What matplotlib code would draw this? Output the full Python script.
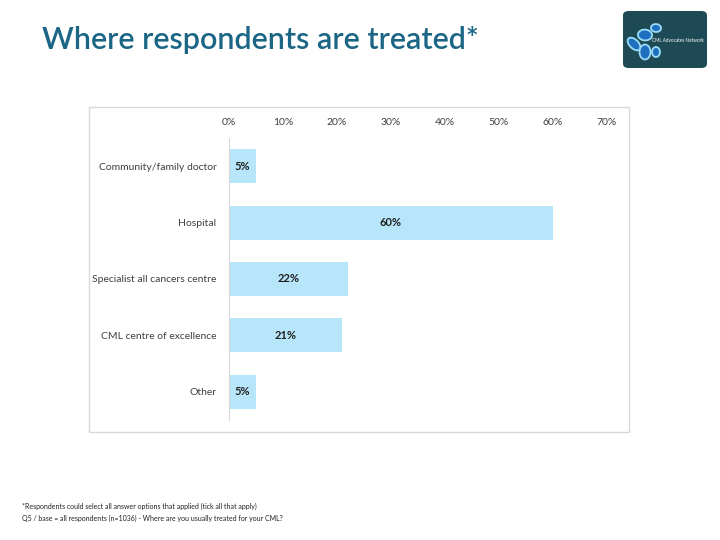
import matplotlib.pyplot as plt
from matplotlib.patches import Rectangle, FancyBboxPatch, Ellipse
from matplotlib.ticker import FuncFormatter

categories = ['Community/family doctor', 'Hospital', 'Specialist all cancers centre',
              'CML centre of excellence', 'Other']
values = [5, 60, 22, 21, 5]
ticks = [0, 10, 20, 30, 40, 50, 60, 70]

plt.rcParams['font.family'] = ['Lato', 'DejaVu Sans']

fig = plt.figure(figsize=(7.2, 5.4), dpi=100)

# title
fig.text(42 / 720, 1 - 40 / 540, 'Where respondents are treated*', fontsize=22,
         fontweight='semibold', color='#1b6585', va='center', ha='left')

# chart frame
fig.patches.append(Rectangle((89 / 720, 1 - 432 / 540), 540 / 720, 325 / 540,
                             transform=fig.transFigure, fill=False,
                             edgecolor='#d9d9d9', linewidth=1))

ax = fig.add_axes([229 / 720, 1 - 420 / 540, 378 / 720, 282 / 540])
y = list(range(len(categories)))
ax.barh(y, values, height=0.6, color='#b7e6fa')
for yi, v in zip(y, values):
    ax.text(v / 2, yi, f'{v}%', ha='center', va='center', fontsize=8,
            fontweight='bold', color='#1f1f1f')

ax.set_xlim(0, 70)
ax.set_ylim(4.5, -0.5)
ax.set_xticks(ticks)
ax.xaxis.set_major_formatter(FuncFormatter(lambda x, p: f'{x:.0f}%'))
ax.xaxis.tick_top()
ax.tick_params(axis='x', length=0, labelsize=7.5, labelcolor='#404040', pad=8)
ax.set_yticks(y)
ax.set_yticklabels(categories)
ax.tick_params(axis='y', length=0, labelsize=7.5, labelcolor='#404040', pad=9)
for s in ['top', 'right', 'bottom']:
    ax.spines[s].set_visible(False)
ax.spines['left'].set_color('#d9d9d9')

# logo
lx, ly, lw, lh = 623 / 720, 1 - 68 / 540, 84 / 720, 57 / 540
fig.patches.append(FancyBboxPatch((lx, ly), lw, lh, boxstyle='round,pad=0,rounding_size=0.008',
                                  transform=fig.transFigure, facecolor='#1e4a55',
                                  edgecolor='none'))
cells = [(656, 28, 10, 8, 20), (645, 35, 14, 11, 30), (634, 44, 10, 14, 30),
         (645, 52, 11, 15, 0), (656, 52, 8, 10, 0)]
for cx, cy, w, h, a in cells:
    fig.patches.append(Ellipse((cx / 720, 1 - cy / 540), w / 720, h / 540, angle=a,
                               transform=fig.transFigure, facecolor='#1f6fc0',
                               edgecolor='#9adcf7', linewidth=1.3))
fig.text(652 / 720, 1 - 40 / 540, 'CML Advocates Network', fontsize=3.3,
         color='white', ha='left', va='center')

# footnote
fig.text(22 / 720, 1 - 506 / 540,
         '*Respondents could select all answer options that applied (tick all that apply)',
         fontsize=5, color='#222222', ha='left', va='center')
fig.text(22 / 720, 1 - 518 / 540,
         'Q5 / base = all respondents (n=1036) - Where are you usually treated for your CML?',
         fontsize=5, color='#222222', ha='left', va='center')

fig.savefig('out.png', dpi=100)
